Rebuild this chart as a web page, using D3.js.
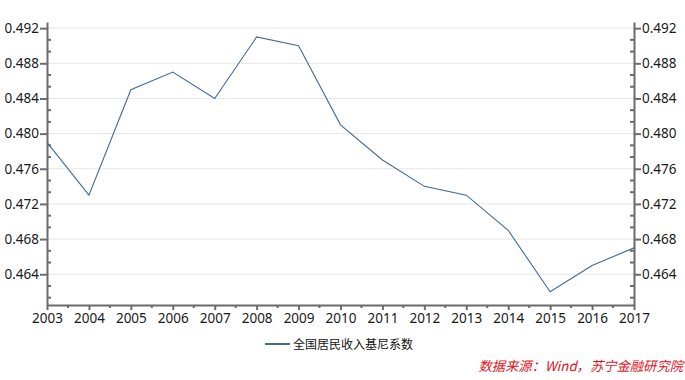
<!DOCTYPE html>
<html>
<head>
<meta charset="utf-8">
<script src="https://cdn.jsdelivr.net/npm/d3@7"></script>
<style>
  html, body { margin: 0; padding: 0; background: #fff; }
  svg { display: block; }
</style>
</head>
<body>
<div id="chart"></div>
<script>
// Gini coefficient line chart, dual y axis

const years = [2003, 2004, 2005, 2006, 2007, 2008, 2009, 2010, 2011, 2012, 2013, 2014, 2015, 2016, 2017];
const gini = [0.479, 0.473, 0.485, 0.487, 0.484, 0.491, 0.490, 0.481, 0.477, 0.474, 0.473, 0.469, 0.462, 0.465, 0.467];
const yTicks = [0.464, 0.468, 0.472, 0.476, 0.480, 0.484, 0.488, 0.492];
const seriesName = '全国居民收入基尼系数';
const sourceText = '数据来源：Wind，苏宁金融研究院';

const width = 685, height = 380;
const margin = { top: 22, right: 51, bottom: 75, left: 47 };
const axisColor = '#6b6b6b';
const lineColor = '#436b94';
const font = '"Noto Sans", "Noto Sans CJK SC", sans-serif';

const svg = d3.select('#chart')
    .append('svg')
    .attr('width', width)
    .attr('height', height);

const x0 = margin.left, x1 = width - margin.right;
const y0 = height - margin.bottom, y1 = margin.top;

const xScale = d3.scaleLinear()
    .domain([years[0], years[years.length - 1]])
    .range([x0, x1]);

const yScale = d3.scaleLinear()
    .domain([0.4605, 0.4927])
    .range([y0, y1]);

// minor tick values (thirds between major ticks)
const step = 0.004 / 3;
const yMinor = d3.range(0, 24).map(i => 0.46 + step * i)
    .filter(v => v >= yScale.domain()[0] && v <= yScale.domain()[1])
    .filter(v => !yTicks.some(t => Math.abs(t - v) < 1e-6));
const xMinor = years.slice(0, -1).map(y => y + 0.5);

// gridlines
svg.append('g')
    .selectAll('line')
    .data(yTicks)
    .enter()
    .append('line')
    .attr('x1', x0).attr('x2', x1)
    .attr('y1', d => yScale(d)).attr('y2', d => yScale(d))
    .attr('stroke', '#e6e6e6')
    .attr('stroke-width', 1);

// left axis
const leftAxis = svg.append('g')
    .attr('transform', `translate(${x0},0)`)
    .call(d3.axisLeft(yScale).tickValues(yTicks).tickFormat(d3.format('.3f')).tickSize(7).tickSizeOuter(0));

leftAxis.append('g')
    .selectAll('line')
    .data(yMinor)
    .enter()
    .append('line')
    .attr('x1', 0).attr('x2', 4)
    .attr('y1', d => yScale(d)).attr('y2', d => yScale(d));

// right axis
const rightAxis = svg.append('g')
    .attr('transform', `translate(${x1},0)`)
    .call(d3.axisRight(yScale).tickValues(yTicks).tickFormat(d3.format('.3f')).tickSize(7).tickSizeOuter(0));

rightAxis.append('g')
    .selectAll('line')
    .data(yMinor)
    .enter()
    .append('line')
    .attr('x1', 0).attr('x2', -4)
    .attr('y1', d => yScale(d)).attr('y2', d => yScale(d));

// bottom axis
const bottomAxis = svg.append('g')
    .attr('transform', `translate(0,${y0})`)
    .call(d3.axisBottom(xScale).tickValues(years).tickFormat(d3.format('d')).tickSize(5).tickSizeOuter(0));

bottomAxis.append('g')
    .selectAll('line')
    .data(xMinor)
    .enter()
    .append('line')
    .attr('x1', d => xScale(d)).attr('x2', d => xScale(d))
    .attr('y1', 0).attr('y2', 3);

[leftAxis, rightAxis, bottomAxis].forEach(a => {
    a.select('.domain').attr('stroke', axisColor).attr('stroke-width', 2);
    a.selectAll('line').attr('stroke', axisColor).attr('stroke-width', 2);
    a.selectAll('text')
        .attr('fill', '#1a1a1a')
        .style('font-family', font)
        .style('font-size', '13.5px');
});
leftAxis.selectAll('.tick text').attr('x', -8);
rightAxis.selectAll('.tick text').attr('x', 8);
bottomAxis.selectAll('.tick text').attr('y', 8);

// the series line
const line = d3.line()
    .x((d, i) => xScale(years[i]))
    .y(d => yScale(d));

svg.append('path')
    .datum(gini)
    .attr('d', line)
    .attr('fill', 'none')
    .attr('stroke', lineColor)
    .attr('stroke-width', 1.1);

// legend
const legend = svg.append('g').attr('transform', 'translate(265,344)');
legend.append('line')
    .attr('x1', 0).attr('x2', 25)
    .attr('y1', 0).attr('y2', 0)
    .attr('stroke', lineColor)
    .attr('stroke-width', 2);
legend.append('text')
    .attr('x', 28)
    .attr('y', 4.5)
    .style('font-family', '"Noto Sans CJK SC", sans-serif')
    .style('font-size', '12px')
    .attr('fill', '#111')
    .text(seriesName);

// source note
svg.append('text')
    .attr('x', 683)
    .attr('y', 371)
    .attr('text-anchor', 'end')
    .style('font-family', '"Noto Sans CJK SC", sans-serif')
    .style('font-size', '13.3px')
    .style('font-style', 'italic')
    .attr('fill', '#e0141e')
    .text(sourceText);
</script>
</body>
</html>
